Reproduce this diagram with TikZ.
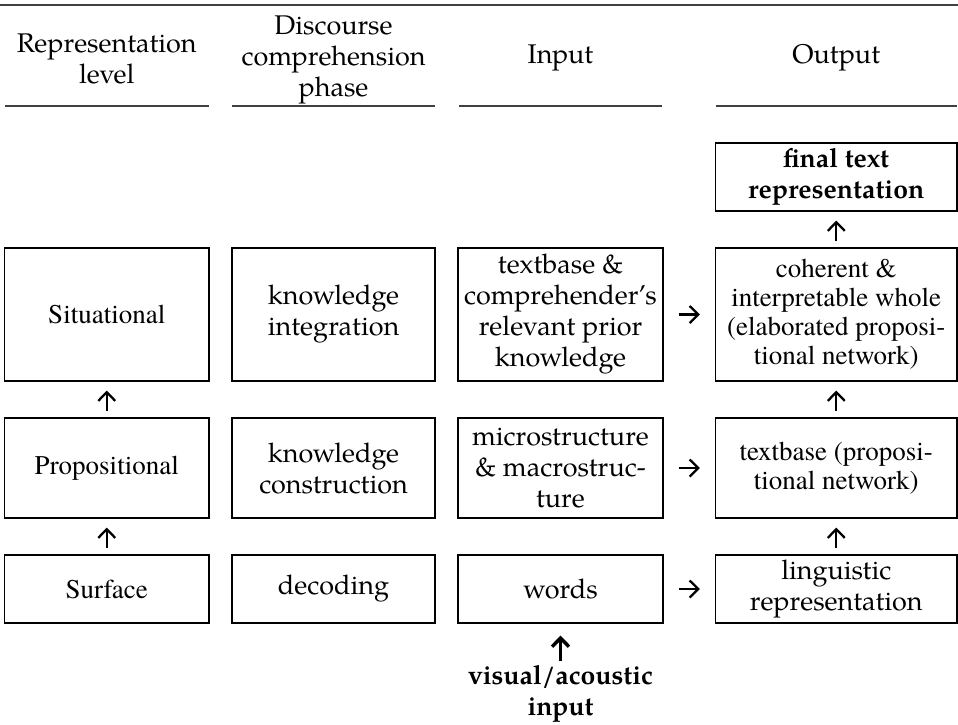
\documentclass[tikz,border=0pt]{standalone}
\usepackage{fontspec}
\IfFontExistsTF{texgyretermes-regular.otf}
  {\newfontfamily\timesf{texgyretermes}[Extension=.otf, UprightFont=*-regular, BoldFont=*-bold]}
  {\newfontfamily\timesf{Latin Modern Roman}}
\IfFontExistsTF{texgyrepagella-regular.otf}
  {\newfontfamily\palfam{texgyrepagella}[Extension=.otf, UprightFont=*-regular, BoldFont=*-bold]}
  {\newfontfamily\palfam{Latin Modern Roman}}
\usetikzlibrary{arrows.meta}
\newcommand\palf{\palfam\fontsize{13.5}{15.5}\selectfont}
\newcommand\tmsf{\timesf\fontsize{13.5}{14.5}\selectfont}
\newcommand\bldf{\palfam\bfseries\fontsize{13.3}{15.5}\selectfont}
\begin{document}
\begin{tikzpicture}[x=0.5pt,y=-0.5pt,
  box/.style={draw, line width=0.65pt, inner sep=0pt, align=center, font=\palf},
  tbox/.style={box, font=\tmsf},
  c1/.style={minimum width=102.25pt},
  c2/.style={minimum width=101.5pt},
  c3/.style={minimum width=102.5pt},
  c4/.style={minimum width=120.75pt},
  hdr/.style={align=center, inner sep=0pt, font=\palf},
  rule/.style={line width=0.8pt, draw=black!75},
  arr/.style={-{Straight Barb[length=4.3pt,width=8.5pt]}, line width=1.15pt},
  barr/.style={-{Straight Barb[length=4.3pt,width=8.5pt]}, line width=1.7pt},
  hsh/.style={shorten <=7.5pt, shorten >=7.5pt},
  vsh/.style={shorten <=3pt, shorten >=4.5pt}]
\useasboundingbox (0,0) rectangle (958,724);
% header rules
\coordinate (tl) at (0,5); \coordinate (tr) at (958,5);
\draw[rule] (tl) -- (tr);
\draw[rule] (5,106) -- (209,106);
\draw[rule] (232,106) -- (435,106);
\draw[rule] (459,106) -- (662,106);
\draw[rule] (716,106) -- (957,106);
% headers
\node[hdr] (h1) at (106.75,59) {Representation\\level};
\node[hdr] (h2) at (333.5,60) {Discourse\\comprehension\\phase};
\node[hdr] (h3) at (560.5,58) {Input};
\node[hdr] (h4) at (836.25,58) {Output};
% final
\node[box, c4, minimum height=34pt, font=\bldf] (fin) at (836.25,177) {final text\\representation};
% situational row
\node[tbox, c1, minimum height=66.5pt] (sit1) at (106.75,314.5) {Situational};
\node[box, c2, minimum height=66.5pt] (sit2) at (333.5,314.5) {knowledge\\integration};
\node[box, c3, minimum height=66.5pt] (sit3) at (560.5,314.5) {textbase \&\\comprehender’s\\relevant prior\\knowledge};
\node[tbox, c4, minimum height=66.5pt] (sit4) at (836.25,314.5) {coherent \&\\interpretable whole\\(elaborated proposi-\\tional network)};
% propositional row
\node[tbox, c1, minimum height=50pt] (pro1) at (106.75,468) {Propositional};
\node[box, c2, minimum height=50pt] (pro2) at (333.5,468) {knowledge\\construction};
\node[box, c3, minimum height=50pt] (pro3) at (560.5,468) {microstructure\\\& macrostruc-\\ture};
\node[tbox, c4, minimum height=50pt] (pro4) at (836.25,468) {textbase (proposi-\\tional network)};
% surface row
\node[tbox, c1, minimum height=34pt] (sur1) at (106.75,589) {Surface};
\node[box, c2, minimum height=34pt] (sur2) at (333.5,589) {decoding};
\node[box, c3, minimum height=34pt] (sur3) at (560.5,589) {words};
\node[box, c4, minimum height=34pt] (sur4) at (836.25,589) {linguistic\\representation};
% input label
\node[hdr, font=\bldf] (vis) at (560.5,694) {visual/acoustic\\input};
% arrows
\draw[arr, hsh] (sit3.east) -- (sit4.west);
\draw[arr, hsh] (pro3.east) -- (pro4.west);
\draw[arr, hsh] (sur3.east) -- (sur4.west);
\draw[arr, vsh] (pro1.north) -- (sit1.south);
\draw[arr, vsh] (sur1.north) -- (pro1.south);
\draw[arr, vsh] (sit4.north) -- (fin.south);
\draw[arr, vsh] (pro4.north) -- (sit4.south);
\draw[arr, vsh] (sur4.north) -- (pro4.south);
\draw[barr, shorten <=2pt, shorten >=6pt] (vis.north) -- (sur3.south);
\end{tikzpicture}
\end{document}
